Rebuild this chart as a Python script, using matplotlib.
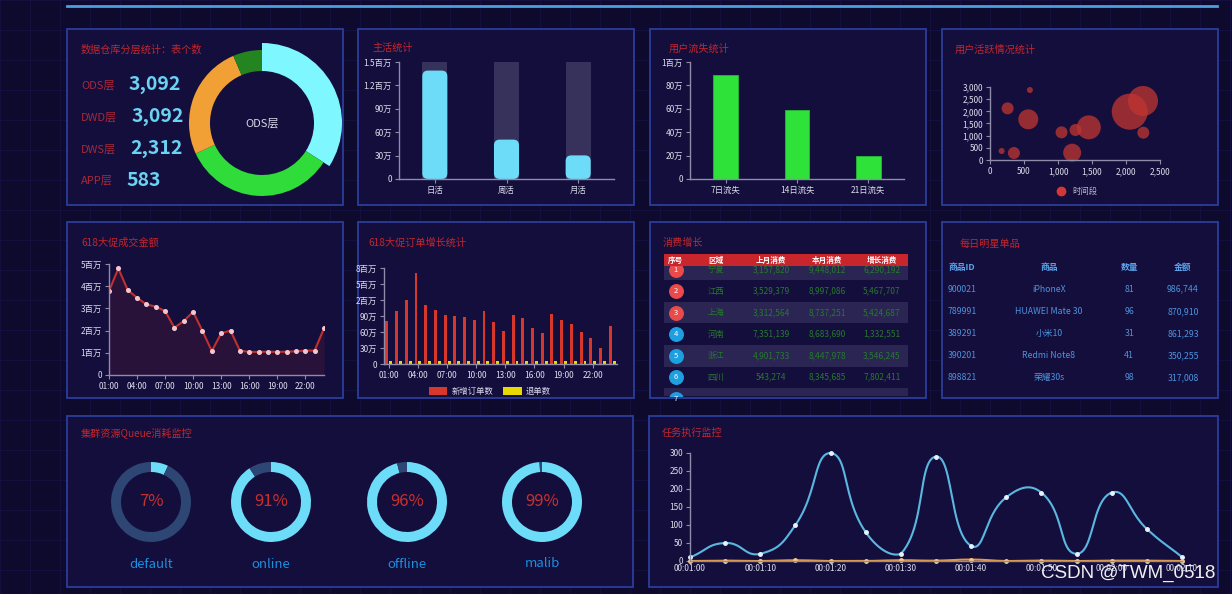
import numpy as np
import matplotlib.pyplot as plt
from matplotlib.patches import Rectangle, FancyBboxPatch, Wedge, Patch
from matplotlib.lines import Line2D

plt.rcParams['font.family'] = ['Noto Sans CJK SC', 'DejaVu Sans']

W, H = 1232, 594

# ---------------- data ----------------
layer_names = ['ODS层', 'DWD层', 'DWS层', 'APP层']
layer_counts = [3092, 3092, 2312, 583]

active_cats = ['日活', '周活', '月活']
active_vals = [1390000, 505000, 303000]
active_max = 1500000

churn_cats = ['7日流失', '14日流失', '21日流失']
churn_vals = [892000, 587000, 197000]

bubble_x = [587, 259, 563, 171, 352, 1052, 1257, 1453, 1208, 2055, 2250, 2255]
bubble_y = [2877, 2123, 1671, 370, 288, 1137, 1233, 1342, 301, 1986, 2425, 1123]
bubble_r = [3, 6, 10, 3, 6, 6, 6, 12, 9, 18, 15, 6]

hours = ['01:00', '02:00', '03:00', '04:00', '05:00', '06:00', '07:00', '08:00',
         '09:00', '10:00', '11:00', '12:00', '13:00', '14:00', '15:00', '16:00',
         '17:00', '18:00', '19:00', '20:00', '21:00', '22:00', '23:00', '24:00']
sales = [3780000, 4800000, 3830000, 3480000, 3180000, 3080000, 2880000, 2130000,
         2430000, 2850000, 1980000, 1080000, 1880000, 2000000, 1100000, 1040000,
         1040000, 1050000, 1040000, 1050000, 1070000, 1100000, 1100000, 2100000]
orders_new = [810000, 1000000, 1205000, 1700000, 1100000, 1010000, 910000, 900000,
              880000, 816000, 998000, 785000, 610000, 910000, 870000, 684000,
              577000, 929000, 816000, 747000, 596000, 496000, 300000, 709000]
orders_back = [50000, 50000, 50000, 50000, 50000, 50000, 50000, 50000,
               50000, 50000, 50000, 50000, 50000, 50000, 50000, 50000,
               50000, 50000, 50000, 50000, 50000, 50000, 50000, 50000]

regions = ['宁夏', '江西', '上海', '河南', '浙江', '四川']
last_month = [3157820, 3529379, 3312564, 7351139, 4901733, 543274]
this_month = [9448012, 8997086, 8737251, 8683690, 8447978, 8345685]
growth = [6290192, 5467707, 5424687, 1332551, 3546245, 7802411]

star_ids = ['900021', '789991', '389291', '390201', '898821']
star_names = ['iPhoneX', 'HUAWEI Mate 30', '小米10', 'Redmi Note8', '荣耀30s']
star_qty = [81, 96, 31, 41, 98]
star_amount = [986744, 870910, 861293, 350255, 317008]

queues = ['default', 'online', 'offline', 'malib']
queue_pct = [7, 91, 96, 99]

task_times = ['00:01:00', '00:01:05', '00:01:10', '00:01:15', '00:01:20',
              '00:01:25', '00:01:30', '00:01:35', '00:01:40', '00:01:45',
              '00:01:50', '00:01:55', '00:02:00', '00:02:05', '00:02:10']
task_a = [10, 50, 20, 100, 300, 80, 20, 290, 42, 177, 190, 20, 190, 89, 11]
task_b = [0, 1, 0, 2, 0, 0, 2, 1, 4, 0, 1, 0, 1, 1, 0]

# ---------------- style ----------------
BG = '#0d0a2e'
PANEL = '#140e3c'
BORDER = '#2b3d9b'
TITLE = '#c3262e'
TXT = '#dcdcec'
AXIS = '#8e8ca8'
CYAN = '#6cdcf8'

fig = plt.figure(figsize=(W / 100, H / 100), dpi=100, facecolor=BG)


def px_axes(x0, y0, x1, y1):
    return fig.add_axes([x0 / W, 1 - y1 / H, (x1 - x0) / W, (y1 - y0) / H])


def style(ax):
    ax.set_facecolor('none')
    for s in ['top', 'right']:
        ax.spines[s].set_visible(False)
    for s in ['left', 'bottom']:
        ax.spines[s].set_color(AXIS)
        ax.spines[s].set_linewidth(1)
    ax.tick_params(colors=AXIS, labelcolor=TXT, labelsize=6, length=3, width=0.8, pad=2)


def smooth_line(x, y, kx, ky, smooth=0.5, n=24):
    # bezier smoothing like echarts: control points from neighbours, clamped to the bbox
    p = np.column_stack([np.asarray(x, float) * kx, np.asarray(y, float) * ky])
    lo, hi = p.min(axis=0), p.max(axis=0)
    N = len(p)
    cp_in, cp_out = [], []
    for i in range(N):
        prv = p[max(i - 1, 0)]
        nxt = p[min(i + 1, N - 1)]
        v = (nxt - prv) * smooth
        d0 = np.hypot(*(p[i] - prv))
        d1 = np.hypot(*(p[i] - nxt))
        s = d0 + d1
        if s:
            d0, d1 = d0 / s, d1 / s
        cp_in.append(np.clip(p[i] - v * d0, lo, hi))
        cp_out.append(np.clip(p[i] + v * d1, lo, hi))
    t = np.linspace(0, 1, n, endpoint=False)[:, None]
    segs = []
    for i in range(N - 1):
        a, b, c, d = p[i], cp_out[i], cp_in[i + 1], p[i + 1]
        segs.append((1 - t) ** 3 * a + 3 * (1 - t) ** 2 * t * b + 3 * (1 - t) * t ** 2 * c + t ** 3 * d)
    segs.append(p[-1:])
    out = np.vstack(segs)
    return out[:, 0] / kx, out[:, 1] / ky


# ---------------- background ----------------
bg = px_axes(0, 0, W, H)
bg.set_xlim(0, W)
bg.set_ylim(H, 0)
bg.axis('off')
for gx in np.arange(0, W, 30):
    bg.axvline(gx, color='#161246', lw=0.5, zorder=0)
for gy in np.arange(0, H, 30):
    bg.axhline(gy, color='#161246', lw=0.5, zorder=0)
bg.plot([67, 1217], [6, 6], color='#4a9fe0', lw=2)

panels = [(67, 29, 343, 205), (358, 29, 634, 205), (650, 29, 926, 205), (942, 29, 1218, 205),
          (67, 222, 343, 398), (358, 222, 634, 398), (650, 222, 926, 398), (942, 222, 1218, 398),
          (67, 416, 633, 587), (649, 416, 1218, 587)]
for x0, y0, x1, y1 in panels:
    bg.add_patch(Rectangle((x0, y0), x1 - x0, y1 - y0, fc=PANEL, ec=BORDER, lw=1.3, zorder=1))

titles = [(81, 50, '数据仓库分层统计：表个数'), (372, 48, '主活统计'), (669, 49, '用户流失统计'),
          (955, 50, '用户活跃情况统计'), (81, 243, '618大促成交金额'), (368, 243, '618大促订单增长统计'),
          (663, 243, '消费增长'), (960, 244, '每日明星单品'), (81, 433, '集群资源Queue消耗监控'),
          (662, 433, '任务执行监控')]
for tx, ty, tt in titles:
    bg.text(tx, ty, tt, color=TITLE, fontsize=7.3, va='center', ha='left', zorder=3)

# ---------------- panel 1: layer donut ----------------
for name, cnt, ly in zip(layer_names, layer_counts, [85, 117, 149, 180]):
    t = bg.text(81, ly, name, color='#a8283a', fontsize=8, va='center', zorder=3)
    bg.annotate(f'{cnt:,}', xy=(1, 0.5), xycoords=t, xytext=(14, 0), textcoords='offset pixels',
                va='center', ha='left', color='#6ad2f2', fontsize=14, fontweight='bold', zorder=3)

dax = px_axes(177, 38, 347, 208)
dax.set_xlim(-85, 85)
dax.set_ylim(-85, 85)
dax.set_aspect('equal')
dax.axis('off')
donut_colors = ['#7ef7ff', '#2fdc3a', '#f0a035', '#24841f']
frac = np.array(layer_counts) / np.sum(layer_counts)
ends = np.cumsum(frac)
starts = ends - frac
for i, (s, e) in enumerate(zip(starts, ends)):
    r, w = (80, 28) if i == 0 else (73, 21)
    dax.add_patch(Wedge((0, 0), r, 90 - e * 360, 90 - s * 360, width=w, fc=donut_colors[i], ec='none'))
dax.text(0, 0, layer_names[0], color='#d8d8e8', fontsize=8, ha='center', va='center')

# ---------------- panel 2: active bars ----------------
ax = px_axes(399, 62, 614, 179)
style(ax)
ax.set_xlim(-0.5, 2.5)
ax.set_ylim(0, active_max)
xs = np.arange(len(active_cats))
ax.bar(xs, [active_max] * len(xs), width=0.35, color='#37325c', zorder=1)
aspect = (active_max / 117) / (3 / 215)
for i, v in enumerate(active_vals):
    ax.add_patch(FancyBboxPatch((xs[i] - 0.175, 0), 0.35, v, boxstyle='round,pad=0,rounding_size=0.08',
                                mutation_aspect=aspect, fc=CYAN, ec='none', zorder=2))
ax.set_xticks(xs, active_cats)
ax.set_yticks([0, 300000, 600000, 900000, 1200000, 1500000],
              ['0', '30万', '60万', '90万', '1.2百万', '1.5百万'])

# ---------------- panel 3: churn bars ----------------
ax = px_axes(690, 62, 904, 179)
style(ax)
ax.set_xlim(-0.5, 2.5)
ax.set_ylim(0, 1000000)
ax.bar(np.arange(3), churn_vals, width=0.35, color='#2fe23a', edgecolor='#28b834', lw=0.6)
ax.set_xticks(np.arange(3), churn_cats)
ax.set_yticks([0, 200000, 400000, 600000, 800000, 1000000],
              ['0', '20万', '40万', '60万', '80万', '1百万'])

# ---------------- panel 4: bubbles ----------------
ax = px_axes(990, 87, 1160, 160)
style(ax)
ax.set_xlim(0, 2500)
ax.set_ylim(0, 3000)
ax.scatter(bubble_x, bubble_y, s=[(2 * r * 0.72) ** 2 for r in bubble_r], color='#c23531',
           alpha=0.75, edgecolors='none', clip_on=False)
ax.set_xticks([0, 500, 1000, 1500, 2000, 2500], ['0', '500', '1,000', '1,500', '2,000', '2,500'])
ax.set_yticks([0, 500, 1000, 1500, 2000, 2500, 3000],
              ['0', '500', '1,000', '1,500', '2,000', '2,500', '3,000'])
ax.legend(handles=[Line2D([], [], marker='o', ls='', color='#d33838', markersize=6, label='时间段')],
          loc='upper center', bbox_to_anchor=(0.5, -0.26), frameon=False, fontsize=6,
          labelcolor='#b8b8c8', handletextpad=0.4)

# ---------------- panel 5: sales line ----------------
ax = px_axes(109, 264, 324, 375)
style(ax)
hx = np.arange(len(hours))
ax.set_xlim(0, len(hours) - 1)
ax.set_ylim(0, 5000000)
ax.fill_between(hx, sales, color='#c0302e', alpha=0.12, lw=0)
ax.plot(hx, sales, color='#c0302e', lw=1.5, marker='o', markersize=2.6,
        markerfacecolor='#f2c8d0', markeredgecolor='#f2c8d0')
ax.set_xticks(hx[::3], hours[::3])
ax.set_yticks([0, 1e6, 2e6, 3e6, 4e6, 5e6], ['0', '1百万', '2百万', '3百万', '4百万', '5百万'])

# ---------------- panel 6: order bars ----------------
ax = px_axes(384, 268, 617, 364)
style(ax)
ax.set_xlim(-0.5, len(hours) - 0.5)
ax.set_ylim(0, 1800000)
ax.bar(hx - 0.2, orders_new, width=0.3, color='#d8382c')
ax.bar(hx + 0.2, orders_back, width=0.3, color='#e6d800')
ax.set_xticks(hx[::3], hours[::3])
ax.set_yticks([0, 300000, 600000, 900000, 1200000, 1500000, 1800000],
              ['0', '30万', '60万', '90万', '2百万', '5百万', '8百万'])
ax.legend(handles=[Patch(fc='#d8382c', label='新增订单数'), Patch(fc='#e6d800', label='退单数')],
          loc='upper center', bbox_to_anchor=(0.455, -0.16), ncol=2, frameon=False, fontsize=6,
          labelcolor=TXT, handlelength=2.2, handleheight=1, columnspacing=1.2, handletextpad=0.5)

# ---------------- panel 7: growth table ----------------
ax = px_axes(664, 254, 908, 396)
ax.set_xlim(0, 1)
ax.set_ylim(6.37, -0.23)
ax.axis('off')
cols7 = [0.049, 0.213, 0.439, 0.668, 0.893]
n_rows = len(regions) + 1
for i in range(n_rows):
    if i % 2 == 0:
        ax.add_patch(Rectangle((0, i), 1, 1, fc='#2a2552', ec='none', zorder=1))
    ax.scatter(cols7[0], i + 0.5, s=95, color='#ea4a4a' if i < 3 else '#1e9fe0', zorder=2)
    ax.text(cols7[0], i + 0.5, str(i + 1), color='white', fontsize=5.5, ha='center', va='center', zorder=3)
for i, row in enumerate(zip(regions, last_month, this_month, growth)):
    ax.text(cols7[1], i + 0.5, row[0], color='#267a2c', fontsize=6, ha='center', va='center', zorder=3)
    for c, v in zip(cols7[2:], row[1:]):
        ax.text(c, i + 0.5, f'{v:,}', color='#267a2c', fontsize=6, ha='center', va='center', zorder=3)
ax.add_patch(Rectangle((0, -0.23), 1, 0.56, fc='#c8262c', ec='none', zorder=5))
for c, h in zip(cols7, ['序号', '区域', '上月消费', '本月消费', '增长消费']):
    ax.text(c, 0.05, h, color='white', fontsize=5.5, fontweight='bold', ha='center', va='center', zorder=6)

# ---------------- panel 8: star products table ----------------
ax = px_axes(945, 256, 1213, 389)
ax.set_xlim(0, 1)
ax.set_ylim(5.5, -0.5)
ax.axis('off')
cols8 = [0.063, 0.388, 0.687, 0.888]
for c, h in zip(cols8, ['商品ID', '商品', '数量', '金额']):
    ax.text(c, 0, h, color='#5aa4ee', fontsize=6.3, fontweight='bold', ha='center', va='center')
for i, row in enumerate(zip(star_ids, star_names, star_qty, star_amount)):
    vals = [row[0], row[1], str(row[2]), f'{row[3]:,}']
    for c, v in zip(cols8, vals):
        ax.text(c, i + 1, v, color='#4d92dc', fontsize=6.3, ha='center', va='center')

# ---------------- panel 9: queue rings ----------------
for cx, name, pct in zip([151, 271, 407, 542], queues, queue_pct):
    ax = px_axes(cx - 40, 462, cx + 40, 542)
    ax.pie([pct, 100 - pct], colors=[CYAN, '#2d4673'], startangle=90, counterclock=False,
           radius=1, wedgeprops=dict(width=0.25, edgecolor='none'))
    ax.set_xlim(-1, 1)
    ax.set_ylim(-1, 1)
    ax.text(0, 0, f'{pct}%', color='#c8302f', fontsize=12, ha='center', va='center')
    ax.text(0, -1.55, name, color='#1b8fe0', fontsize=9.5, ha='center', va='center', clip_on=False)

# ---------------- panel 10: task line ----------------
ax = px_axes(690, 453, 1182, 561)
style(ax)
tx = np.arange(len(task_times))
ax.set_xlim(0, len(task_times) - 1)
ax.set_ylim(0, 300)
kx = 492 / (len(task_times) - 1)
ky = 108 / 300
sx, sy = smooth_line(tx, task_a, kx, ky)
ax.plot(sx, sy, color='#5ab8e0', lw=1.5, clip_on=False)
ax.plot(tx, task_a, 'o', color='#e8f4ff', markersize=2.5, clip_on=False)
sx, sy = smooth_line(tx, task_b, kx, ky)
ax.plot(sx, sy, color='#e89a3a', lw=1.5, clip_on=False)
ax.plot(tx, task_b, 'o', color='#f5c890', markersize=2.5, clip_on=False)
ax.set_xticks(tx[::2], task_times[::2])
ax.set_yticks([0, 50, 100, 150, 200, 250, 300])
ax.tick_params(axis='x', length=0)

bg.text(1215, 573, 'CSDN @TWM_0518', color='#f0f0f0', fontsize=13.5, ha='right', va='center',
        family=['Liberation Sans', 'DejaVu Sans'], zorder=10)

fig.savefig('out.png', dpi=100, facecolor=BG)
